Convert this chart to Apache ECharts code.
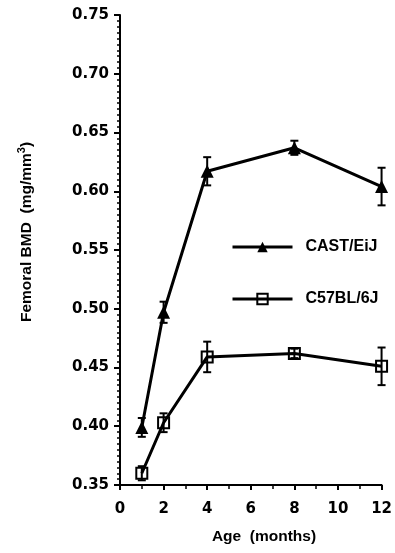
<!DOCTYPE html>
<html>
<head>
<meta charset="utf-8">
<script src="https://cdn.jsdelivr.net/npm/echarts@6/dist/echarts.min.js"></script>
<style>
  html, body { margin: 0; padding: 0; background: #fff; }
  #chart { width: 395px; height: 553px; }
</style>
</head>
<body>
<div id="chart"></div>
<script>
// Age at measurement (months)
const months = [1, 2, 4, 8, 12];
// Femoral BMD means and error half-widths (mg/mm3)
const castMean = [0.399, 0.497, 0.617, 0.637, 0.604];
const castErr  = [0.008, 0.009, 0.012, 0.006, 0.016];
const c57Mean  = [0.360, 0.403, 0.459, 0.462, 0.451];
const c57Err   = [0.006, 0.008, 0.013, 0.004, 0.016];
const seriesNames = ['CAST/EiJ', 'C57BL/6J'];

const tickFont = { fontFamily: 'DejaVu Sans', fontWeight: 'bold', fontSize: 15, color: '#000' };
const textFont = 'Liberation Sans';

function points(mean) { return months.map((m, i) => [m, mean[i]]); }
function errRows(mean, err) { return months.map((m, i) => [m, mean[i] - err[i], mean[i] + err[i]]); }

function errorBar(params, api) {
  const x = api.value(0);
  const lo = api.coord([x, api.value(1)]);
  const hi = api.coord([x, api.value(2)]);
  const cap = 4;
  const style = { stroke: '#000', lineWidth: 2, fill: null };
  return {
    type: 'group',
    children: [
      { type: 'line', shape: { x1: lo[0], y1: lo[1], x2: hi[0], y2: hi[1] }, style },
      { type: 'line', shape: { x1: lo[0] - cap, y1: lo[1], x2: lo[0] + cap, y2: lo[1] }, style },
      { type: 'line', shape: { x1: hi[0] - cap, y1: hi[1], x2: hi[0] + cap, y2: hi[1] }, style }
    ]
  };
}

const chart = echarts.init(document.getElementById('chart'));
chart.setOption({
  animation: false,
  backgroundColor: '#fff',
  grid: { left: 120, right: 7, top: 15, bottom: 68, containLabel: false },
  xAxis: {
    type: 'value', min: 0, max: 12, interval: 2,
    axisLine: { lineStyle: { color: '#000', width: 2 } },
    axisTick: { length: 5, lineStyle: { color: '#000', width: 2 } },
    minorTick: { show: true, splitNumber: 2, length: 4, lineStyle: { color: '#000', width: 1.5 } },
    splitLine: { show: false },
    axisLabel: Object.assign({ margin: 17 }, tickFont)
  },
  yAxis: {
    type: 'value', min: 0.35, max: 0.75, interval: 0.05,
    axisLine: { show: true, lineStyle: { color: '#000', width: 2 } },
    axisTick: { show: true, length: 6, lineStyle: { color: '#000', width: 2 } },
    minorTick: { show: true, splitNumber: 10, length: 3, lineStyle: { color: '#000', width: 1.5 } },
    splitLine: { show: false },
    axisLabel: Object.assign({ margin: 11, formatter: v => v.toFixed(2) }, tickFont)
  },
  legend: {
    orient: 'vertical', left: 226, top: 234, itemGap: 36,
    itemWidth: 60, itemHeight: 13,
    lineStyle: { width: 3, color: '#000' },
    textStyle: { fontFamily: textFont, fontWeight: 'bold', fontSize: 16, color: '#000', padding: [0, 0, 0, 8] },
    data: seriesNames
  },
  graphic: [
    {
      type: 'text', x: 27, y: 232, rotation: Math.PI / 2,
      style: {
        text: '{b|Femoral BMD  (mg/mm}{s|3}{b|)}',
        align: 'center', verticalAlign: 'middle',
        rich: {
          b: { fontFamily: textFont, fontWeight: 'bold', fontSize: 15.5, lineHeight: 22, fill: '#000' },
          s: { fontFamily: textFont, fontWeight: 'bold', fontSize: 11, lineHeight: 13, verticalAlign: 'top', fill: '#000' }
        }
      }
    },
    {
      type: 'text', x: 264, y: 537,
      style: {
        text: 'Age  (months)', align: 'center', verticalAlign: 'middle',
        fontFamily: textFont, fontWeight: 'bold', fontSize: 15.5, fill: '#000'
      }
    }
  ],
  series: [
    {
      name: seriesNames[0], type: 'line', data: points(castMean),
      symbol: 'triangle', symbolSize: 13,
      lineStyle: { color: '#000', width: 3 },
      itemStyle: { color: '#000' }, z: 3
    },
    {
      name: seriesNames[1], type: 'line', data: points(c57Mean),
      symbol: 'rect', symbolSize: 11,
      lineStyle: { color: '#000', width: 3 },
      itemStyle: { color: 'rgba(255,255,255,0)', borderColor: '#000', borderWidth: 2 }, z: 3
    },
    { type: 'custom', renderItem: errorBar, data: errRows(castMean, castErr), z: 2, silent: true },
    { type: 'custom', renderItem: errorBar, data: errRows(c57Mean, c57Err), z: 2, silent: true }
  ]
});
</script>
</body>
</html>
